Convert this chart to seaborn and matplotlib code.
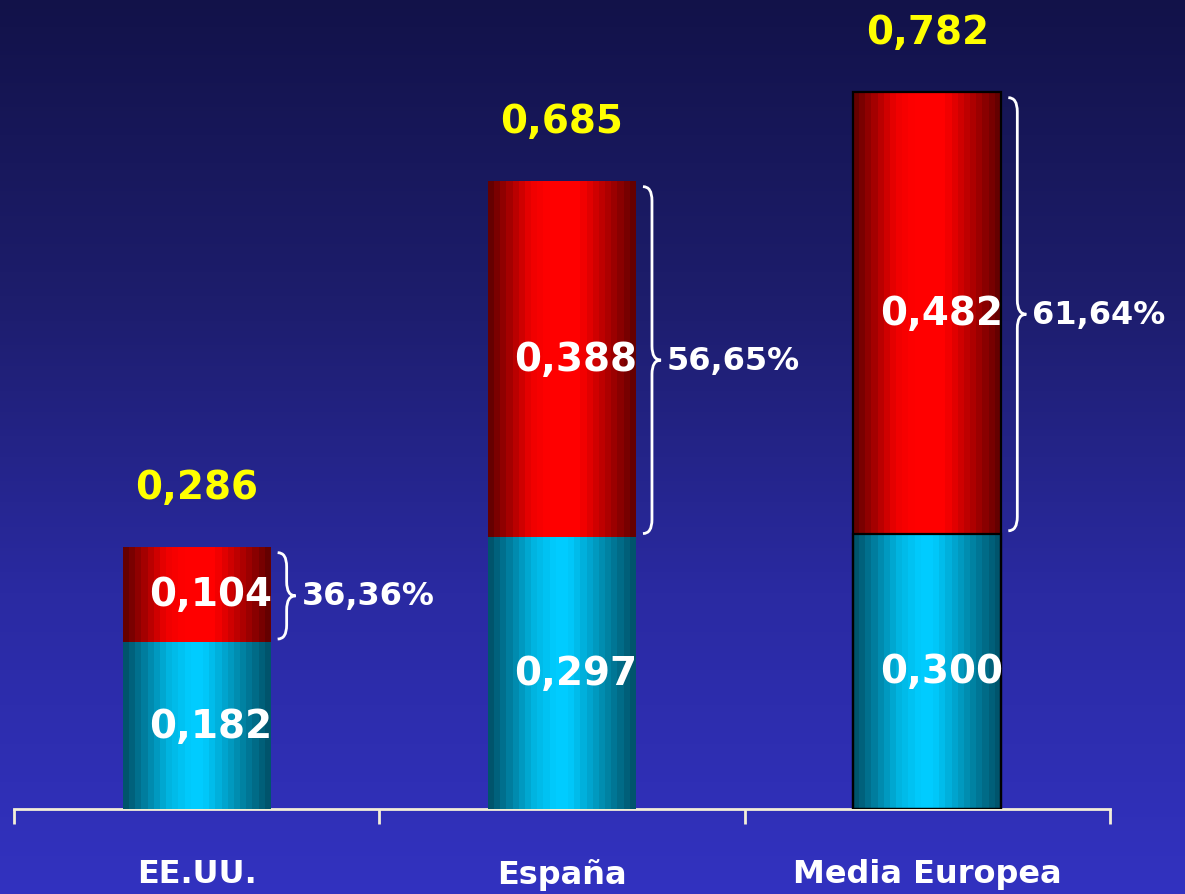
import numpy as np
import matplotlib
matplotlib.use("Agg")
import matplotlib.pyplot as plt
from matplotlib.colors import LinearSegmentedColormap
from matplotlib.path import Path
from matplotlib.patches import PathPatch
import seaborn as sns

# data
countries = ["EE.UU.", "España", "Media Europea"]
base_vals = [0.182, 0.297, 0.300]      # cyan segment
top_vals = [0.104, 0.388, 0.482]       # red segment
totals = [0.286, 0.685, 0.782]
shares = ["36,36%", "56,65%", "61,64%"]

plt.rcParams['font.family'] = ['DejaVu Sans']
plt.rcParams['font.weight'] = 'bold'

W, H = 1185, 895
fig = plt.figure(figsize=(W / 100, H / 100), dpi=100)

# background gradient (dark navy at top -> blue at bottom)
bg = fig.add_axes([0, 0, 1, 1], zorder=0)
bg_cmap = LinearSegmentedColormap.from_list("bg", ["#121249", "#1d1d6c", "#2a2aa2", "#3232c0"])
bg.imshow(np.linspace(0, 1, 256).reshape(-1, 1), aspect='auto', cmap=bg_cmap,
          extent=[0, 1, 0, 1], origin='upper')
bg.axis('off')

ax = fig.add_axes([14 / W, 85 / H, 1096 / W, 810 / H], zorder=1)
ax.set_facecolor('none')

bar_w = 0.405
sns.barplot(x=countries, y=totals, color="#ff0000", saturation=1, width=bar_w, ax=ax)
sns.barplot(x=countries, y=base_vals, color="#00ccff", saturation=1, width=bar_w, ax=ax)

ymax = 0.883

red_cmap = LinearSegmentedColormap.from_list(
    "red", [(0, "#650000"), (0.28, "#ee0000"), (0.4, "#ff0000"), (0.62, "#ff0000"),
            (0.82, "#b00000"), (1, "#650000")], N=24)
cyan_cmap = LinearSegmentedColormap.from_list(
    "cyan", [(0, "#00546c"), (0.3, "#00b4e0"), (0.45, "#00ccff"), (0.55, "#00ccff"),
             (0.8, "#0089ab"), (1, "#00546c")], N=24)
grad = np.linspace(0, 1, 24).reshape(1, -1)

patches = list(ax.patches)
for i, p in enumerate(patches):
    cmap = red_cmap if i < 3 else cyan_cmap
    x0, y0 = p.get_x(), p.get_y()
    x1, y1 = x0 + p.get_width(), y0 + p.get_height()
    im = ax.imshow(grad, extent=[x0, x1, y0, y1], aspect='auto', cmap=cmap,
                   interpolation='nearest', zorder=2 + (i >= 3))
    im.set_clip_path(p)
    p.set_facecolor('none')
    p.set_edgecolor('black' if i % 3 == 2 else 'none')
    p.set_linewidth(1.6)
    p.set_zorder(5)

ax.set_xlim(-0.5, 2.5)
ax.set_ylim(0, ymax)

px = 3 / 1096
py = ymax / 810

for i, name in enumerate(countries):
    right = i + bar_w / 2
    # totals
    ax.annotate(f"{totals[i]:.3f}".replace('.', ','), (i, totals[i]), xytext=(0, 43),
                textcoords='offset points', ha='center', va='center',
                color='#ffff00', fontsize=28, fontweight='bold')
    # segment values
    ax.annotate(f"{top_vals[i]:.3f}".replace('.', ','), (i, base_vals[i] + top_vals[i] / 2),
                xytext=(10, 0), textcoords='offset points', ha='center', va='center',
                color='white', fontsize=28, fontweight='bold', zorder=6)
    ax.annotate(f"{base_vals[i]:.3f}".replace('.', ','), (i, base_vals[i] / 2),
                xytext=(10, 0), textcoords='offset points', ha='center', va='center',
                color='white', fontsize=28, fontweight='bold', zorder=6)
    # brace next to the red segment
    ytop = totals[i] - 6 * py
    ybot = base_vals[i] + 3 * py
    ymid = (ytop + ybot) / 2
    x0 = right + 7 * px
    xm = x0 + 9 * px
    xt = x0 + 18 * px
    r = 14 * py
    verts = [(x0, ytop), (xm, ytop), (xm, ytop - r), (xm, ymid + r),
             (xm, ymid), (xt, ymid), (xm, ymid), (xm, ymid - r),
             (xm, ybot + r), (xm, ybot), (x0, ybot)]
    codes = [Path.MOVETO, Path.CURVE3, Path.CURVE3, Path.LINETO,
             Path.CURVE3, Path.CURVE3, Path.CURVE3, Path.CURVE3,
             Path.LINETO, Path.CURVE3, Path.CURVE3]
    ax.add_patch(PathPatch(Path(verts, codes), fill=False, edgecolor='white', lw=2, zorder=6))
    ax.text(xt + 6 * px, ymid, shares[i], ha='left', va='center', color='white',
            fontsize=23, fontweight='bold')

# axes styling
for s in ['top', 'right', 'left']:
    ax.spines[s].set_visible(False)
ax.spines['bottom'].set_color('#f3eed8')
ax.spines['bottom'].set_linewidth(2)
ax.set_yticks([])
ax.set_xticks([0, 1, 2])
ax.set_xticklabels(countries)
ax.set_xticks([-0.5, 0.5, 1.5, 2.5], minor=True)
ax.tick_params(axis='x', which='major', length=0, pad=35, labelsize=23, labelcolor='white')
ax.tick_params(axis='x', which='minor', length=11, width=2, color='#f3eed8', direction='out')
for lbl in ax.get_xticklabels():
    lbl.set_fontweight('bold')
ax.set_xlabel('')
ax.set_ylabel('')

fig.savefig("out.png", dpi=100)
